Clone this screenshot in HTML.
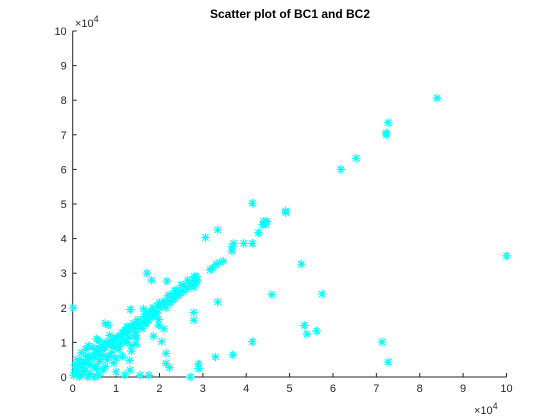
<!DOCTYPE html>
<html><head><meta charset="utf-8"><style>
body{margin:0;background:#fff;}
svg{display:block;font-family:"Liberation Sans",Arial,sans-serif;}
</style></head><body>
<svg id="chart" width="560" height="420" viewBox="0 0 560 420" xmlns="http://www.w3.org/2000/svg">
<rect width="560" height="420" fill="#fff"/>
<text x="290" y="18" text-anchor="middle" font-size="12" font-weight="bold" fill="#000">Scatter plot of BC1 and BC2</text>
<g id="axes"></g>
<g id="marks"></g>
<text x="75" y="27" font-size="11" fill="#262626">×10<tspan dy="-5" font-size="9">4</tspan></text>
<text x="474" y="414" font-size="11" fill="#262626">×10<tspan dy="-5" font-size="9">4</tspan></text>
</svg>
<script>
const xTicks=[0,1,2,3,4,5,6,7,8,9,10];
const yTicks=[0,1,2,3,4,5,6,7,8,9,10];
const xTickLabels=["0","1","2","3","4","5","6","7","8","9","10"];
const yTickLabels=["0","1","2","3","4","5","6","7","8","9","10"];
const bc1=[8.4,7.27,7.23,7.23,6.53,6.18,4.14,4.91,4.91,4.4,4.42,4.45,4.48,4.38,4.28,3.34,3.06,3.71,3.94,4.14,3.67,3.67,3.17,3.22,3.3,3.38,3.47,2.8,2.83,2.87,2.85,5.27,10.0,4.59,5.75,3.34,2.79,2.79,5.34,5.40,5.62,7.13,7.27,4.14,3.69,3.29,2.9,2.9,2.71,
0.01,1.71,1.82,2.17,1.33,1.63,0.75,0.82,0.55,0.36,1.46,1.46,1.86,2.05,2.1,2.15,2.15,2.23,1.98,1.98,1.35,1.31,1.2,1.55,1.76,1.0,1.32,
0.02,0.05,0.1,0.15,0.2,0.25,0.3,0.35,0.4,0.45,0.5,0.55,0.6,0.65,0.7,0.75,0.8,0.85,0.9,0.95,1.0,1.05,1.1,1.15,1.2,1.25,1.3,1.35,1.4,1.45,1.5,1.55,1.6,1.65,1.7,1.75,1.8,1.85,1.9,1.95,2.0,2.05,2.1,2.2,2.3,2.4,2.5,2.55,2.6,2.7,2.75,2.8,2.85,
0.1,0.2,0.3,0.05,0.15,0.35,0.5,0.25,0.4,0.6,0.7,0.8,0.9,0.45,0.6,0.85,1.0,1.1,0.3,0.55,0.65,0.75,0.95,1.2,1.3,1.45,0.12,0.22,0.08,0.18,1.6,1.7,1.9,2.15,2.25,2.35,2.45,2.65,
0.4,0.5,0.7,0.9,1.0,1.1,1.2,1.35,1.5,1.65,1.8,1.95,2.1,2.25,2.4,2.55,0.6,0.8,1.0,1.2,1.4,0.3,0.45,0.7,0.95,1.15,1.3,1.5,1.7,1.85,2.0,2.2,2.35,2.5,2.65,2.8,0.2,0.4,0.55,0.85,1.25,0.1,0.3,0.65,0.75,1.05];
const bc2=[8.06,7.35,7.05,7.0,6.32,6.0,5.02,4.8,4.75,4.5,4.45,4.4,4.5,4.4,4.17,4.25,4.03,3.86,3.86,3.86,3.76,3.64,3.1,3.15,3.25,3.3,3.35,2.6,2.7,2.8,2.9,3.26,3.5,2.38,2.4,2.17,1.86,1.64,1.49,1.24,1.33,1.01,0.43,1.02,0.64,0.58,0.38,0.25,0.0,
2.0,3.0,2.8,2.77,1.95,1.97,1.55,1.5,1.1,0.9,1.1,0.95,1.18,1.02,1.39,0.68,0.39,0.27,1.66,1.5,0.75,0.48,0.06,0.05,0.05,0.15,0.2,
0.05,0.2,0.1,0.3,0.05,0.4,0.2,0.5,0.1,0.6,0.3,0.7,0.05,0.5,0.8,0.3,0.9,0.6,1.0,0.4,1.1,0.8,1.15,0.6,1.25,1.0,1.3,0.9,1.4,1.3,1.5,1.45,1.6,1.55,1.7,1.65,1.8,1.75,1.9,1.85,2.0,2.05,2.1,2.2,2.3,2.4,2.5,2.45,2.6,2.7,2.65,2.8,2.75,
0.5,0.7,0.8,0.35,0.0,0.0,0.0,0.15,0.35,0.45,0.2,0.5,0.7,0.85,1.05,1.2,0.55,0.95,0.6,0.25,0.9,1.0,0.85,1.05,1.15,1.2,0.25,0.35,0.15,0.45,1.4,1.55,1.75,2.0,2.15,2.25,2.35,2.55,
0.55,0.6,0.8,0.95,1.1,1.2,1.3,1.45,1.6,1.75,1.9,2.05,2.2,2.35,2.5,2.65,0.75,0.95,1.15,1.35,1.55,0.45,0.6,0.85,1.1,1.3,1.45,1.65,1.85,2.0,2.15,2.35,2.5,2.65,2.8,2.9,0.3,0.6,0.8,1.05,1.45,0.35,0.4,0.65,0.6,0.9];

const X0=72.7,X1=506.5,Y0=377,Y1=31;
function sx(v){return X0+(X1-X0)*v/10;}
function sy(v){return Y0-(Y0-Y1)*v/10;}
const NS="http://www.w3.org/2000/svg";
const axes=document.getElementById('axes');
function mk(tag,attrs,parent){const e=document.createElementNS(NS,tag);for(const k in attrs)e.setAttribute(k,attrs[k]);parent.appendChild(e);return e;}
let xl=mk('line',{x1:X0,y1:Y0,x2:X1,y2:Y0,stroke:'#262626','stroke-width':1},axes);


let yl=mk('line',{x1:X0,y1:Y0,x2:X0,y2:Y1,stroke:'#262626','stroke-width':1},axes);


xTicks.forEach((t,i)=>{
  const x=sx(t);
  const tk=mk('line',{x1:x,y1:Y0,x2:x,y2:Y0-4,stroke:'#262626'},axes);
  
  
  const tx=mk('text',{x:x,y:Y0+15,'text-anchor':'middle','font-size':11,fill:'#262626'},axes);
  tx.textContent=xTickLabels[i];
  
  
});
yTicks.forEach((t,i)=>{
  const y=sy(t);
  const tk=mk('line',{x1:X0,y1:y,x2:X0+4,y2:y,stroke:'#262626'},axes);
  
  
  const tx=mk('text',{x:X0-6,y:y+4,'text-anchor':'end','font-size':11,fill:'#262626'},axes);
  tx.textContent=yTickLabels[i];
  
  
});
const marks=document.getElementById('marks');
const r=4.3;
for(let i=0;i<bc1.length;i++){
  const cx=sx(bc1[i]),cy=sy(bc2[i]),d=r*0.72;
  const p=mk('path',{d:`M${cx-r},${cy}H${cx+r}M${cx},${cy-r}V${cy+r}M${cx-d},${cy-d}L${cx+d},${cy+d}M${cx-d},${cy+d}L${cx+d},${cy-d}`,stroke:'#00ffff','stroke-width':1.2,fill:'none'},marks);
  
  
}
</script>
</body></html>
